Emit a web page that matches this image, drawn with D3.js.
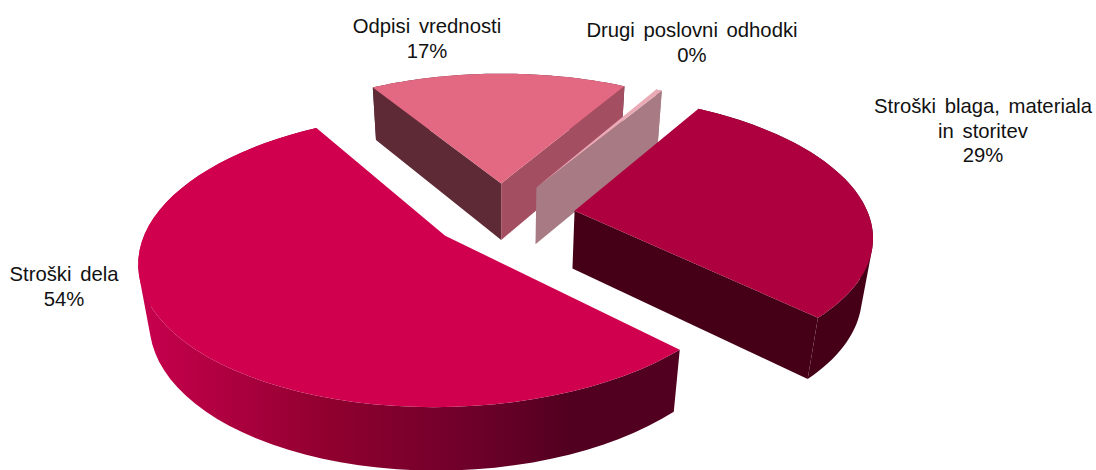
<!DOCTYPE html>
<html>
<head>
	<title>Poslovni odhodki</title>
	<meta charset="utf-8">
	<script src="https://d3js.org/d3.v7.min.js"></script>
	<style>
		html, body { margin: 0; padding: 0; background: #fff; }
		svg { display: block; }
		text { font-family: "Liberation Sans", Arial, sans-serif; font-size: 20.3px; fill: #111; text-anchor: middle; word-spacing: 3px; }
	</style>
</head>
<body>
	<script type="text/javascript">
		var categories = ["Stroški blaga, materiala in storitev", "Stroški dela", "Odpisi vrednosti", "Drugi poslovni odhodki"];
		var values = [28.8, 54, 16.8, 0.4];
		var percentLabels = ["29%", "54%", "17%", "0%"];
		var labelLines = [["Stroški blaga, materiala", "in storitev"], ["Stroški dela"], ["Odpisi vrednosti"], ["Drugi poslovni odhodki"]];

		var topColors = ["#ae003e", "#d0004f", "#e36982", "#e9a9b5"];
		var leftFaceColors = ["#450017", "#52001f", "#5e2a36", "#a87a84"];
		var rightFaceColors = ["#450017", "#52001f", "#a44e62", "#a87a84"];
		var wallColors = ["#450017", "url(#bigWall)", "#5e2a36", "#a87a84"];
		var labelPos = [[983, 113], [64, 281], [427, 33], [692, 37]];
		var explode = [0.25, 0.24, 0.24, 0.24];

		var width = 1096,
			height = 470;

		var svg = d3.select("body").append("svg")
			.attr("width", width)
			.attr("height", height);

		// flat pie is laid on a plate, then put through a simple perspective
		var cx = 502, cy = 215,
			rx = 294, ry = 136.6,
			tilt = 0.16, drop = 0.03,
			depth = 59.5;

		function project(u, v, z) {
			var s = 1 / (1 + tilt * v + drop * z);
			return [cx + rx * u * s, cy + (-ry * v + depth * z) * s];
		}

		var pie = d3.pie().sort(null)
			.startAngle(31 * Math.PI / 180)
			.endAngle((31 + 360) * Math.PI / 180);

		var slices = pie(values);
		var line = d3.line();

		var defs = svg.append("defs");
		function wallGradient(id, stops) {
			var grad = defs.append("linearGradient").attr("id", id)
				.attr("gradientUnits", "userSpaceOnUse")
				.attr("x1", 139).attr("x2", 678).attr("y1", 0).attr("y2", 0);
			stops.forEach(function(d) {
				grad.append("stop").attr("offset", d[0]).attr("stop-color", d[1]);
			});
		}
		wallGradient("bigWall", [[0, "#c8004e"], [0.35, "#90002f"], [0.6, "#70002a"], [0.8, "#52001f"], [1, "#52001f"]]);

		// points on the rim of one slice at level z
		function rim(d, z) {
			var mid = (d.startAngle + d.endAngle) / 2,
				u0 = explode[d.index] * Math.sin(mid),
				v0 = explode[d.index] * Math.cos(mid),
				steps = d3.range(0, 61).map(function(i) {
					var a = d.startAngle + (d.endAngle - d.startAngle) * i / 60;
					return project(u0 + Math.sin(a), v0 + Math.cos(a), z);
				});
			return { apex: project(u0, v0, z), pts: steps };
		}

		function facesViewer(p) {
			return d3.polygonArea(p) > 0;
		}

		// same winding for every quad so they add up when filled as one path
		function wallPath(top, bot) {
			var out = "";
			d3.range(0, top.pts.length - 1).forEach(function(k) {
				var q = [top.pts[k], top.pts[k + 1], bot.pts[k + 1], bot.pts[k]];
				if (d3.polygonArea(q) < 0) q.reverse();
				out += line(q) + "Z";
			});
			return out;
		}

		// far slices first
		var order = [2, 3, 0, 1];
		order.forEach(function(i) {
			var d = slices[i],
				top = rim(d, 0),
				bot = rim(d, 1),
				n = top.pts.length - 1,
				g = svg.append("g");

			// outer curved wall, the part facing away ends up under the rest
			g.append("path").attr("d", wallPath(top, bot)).attr("fill", wallColors[i]);

			// the two straight cut faces
			var faceA = [top.apex, top.pts[0], bot.pts[0], bot.apex];
			var faceB = [top.pts[n], top.apex, bot.apex, bot.pts[n]];
			if (facesViewer(faceA)) g.append("path").attr("d", line(faceA) + "Z").attr("fill", leftFaceColors[i]);
			if (facesViewer(faceB)) g.append("path").attr("d", line(faceB) + "Z").attr("fill", rightFaceColors[i]);

			var topShape = [top.apex].concat(top.pts);
			g.append("path").attr("d", line(topShape) + "Z").attr("fill", topColors[i]);
		});

		// labels
		categories.forEach(function(c, i) {
			var t = svg.append("text").attr("x", labelPos[i][0]).attr("y", labelPos[i][1]);
			labelLines[i].concat([percentLabels[i]]).forEach(function(s, k) {
				t.append("tspan").attr("x", labelPos[i][0]).attr("dy", k == 0 ? 0 : 24.5).text(s);
			});
		});
	</script>
</body>
</html>
